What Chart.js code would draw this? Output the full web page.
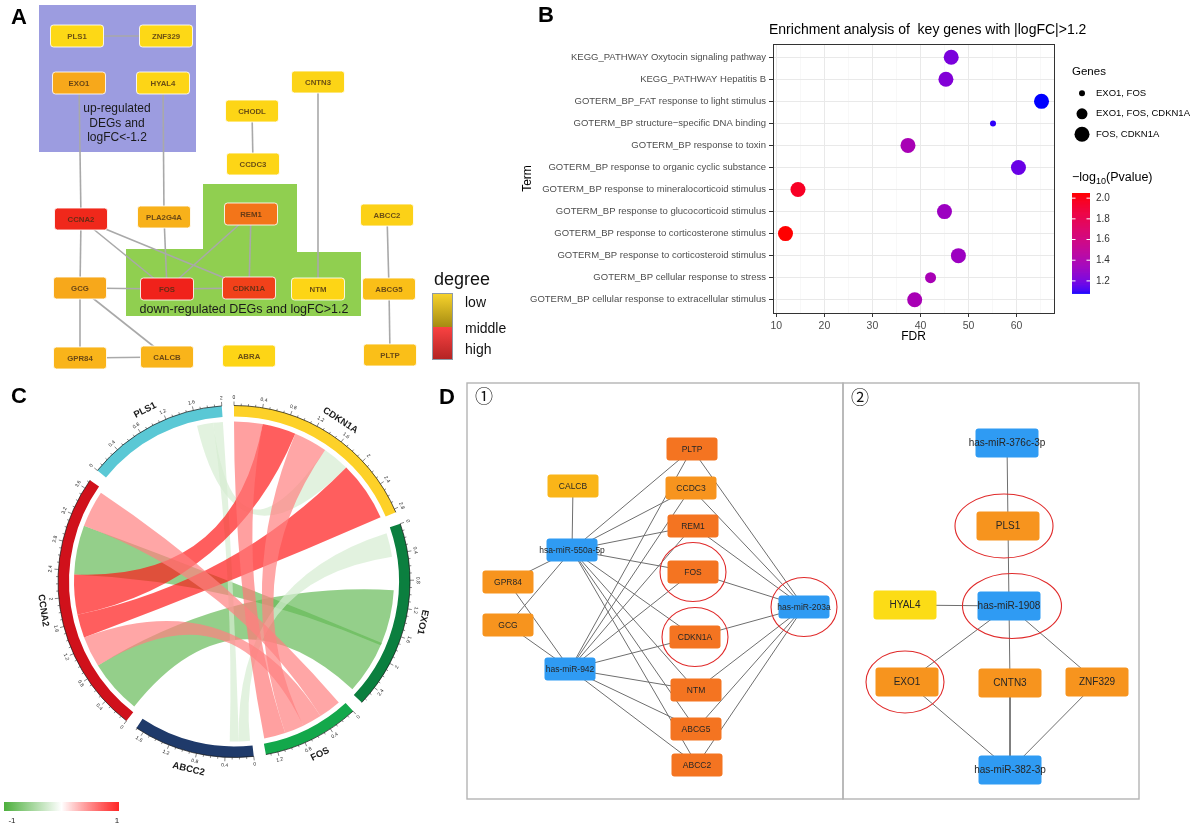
<!DOCTYPE html>
<html><head><meta charset="utf-8">
<title>Key genes figure</title>
<script src="https://cdn.jsdelivr.net/npm/chart.js@4.4.1/dist/chart.umd.min.js"></script>
<style>
html,body{margin:0;padding:0;background:#ffffff;}
body{width:1200px;height:826px;position:relative;overflow:hidden;}
.pane{position:absolute;}
</style></head>
<body>
<div class="pane" style="left:0;top:0;width:520px;height:380px"><canvas id="chartA"></canvas></div>
<div class="pane" style="left:520px;top:0;width:680px;height:345px"><canvas id="chartB"></canvas></div>
<div class="pane" style="left:0;top:380px;width:460px;height:446px"><canvas id="chartC"></canvas></div>
<div class="pane" style="left:435px;top:380px;width:410px;height:446px"><canvas id="chartD1"></canvas></div>
<div class="pane" style="left:841px;top:380px;width:300px;height:446px"><canvas id="chartD2"></canvas></div>
<script>
// ======================= DATA =======================
// ---- Panel A: PPI network (layout units, degree score 0 = low ... 1 = high)
const aGenes   = ['PLS1','ZNF329','EXO1','HYAL4','CNTN3','CHODL','CCDC3','CCNA2','PLA2G4A','REM1','ABCC2','GCG','FOS','CDKN1A','NTM','ABCG5','GPR84','CALCB','ABRA','PLTP'];
const aLayoutX = [77,166,79,163,318,252,253,81,164,251,387,80,167,249,318,389,80,167,249,390];
const aLayoutY = [36,36,83,83,82,111,164,219,217,214,215,288,289,288,289,289,358,357,356,355];
const aDegree  = [0,0,0.33,0.02,0.03,0.02,0.02,0.97,0.27,0.6,0.05,0.33,1,0.85,0.02,0.17,0.25,0.25,0.02,0.17];
const aEdges = [['PLS1','ZNF329'],['EXO1','CCNA2'],['HYAL4','PLA2G4A'],['PLA2G4A','FOS'],['CNTN3','NTM'],['CHODL','CCDC3'],
  ['CCNA2','FOS'],['CCNA2','CDKN1A'],['CCNA2','GCG'],['REM1','FOS'],['REM1','CDKN1A'],['GCG','FOS'],['FOS','CDKN1A'],
  ['GCG','GPR84'],['GCG','CALCB'],['GPR84','CALCB'],['ABCC2','ABCG5'],['ABCG5','PLTP']];
const aUpRegion   = [[39,5],[196,5],[196,152],[39,152]];
const aDownRegion = [[203,184],[297,184],[297,252],[361,252],[361,316],[126,316],[126,249],[203,249]];
const aUpLabel    = ['up-regulated','DEGs and','logFC<-1.2'];
const aDownLabel  = 'down-regulated DEGs and logFC>1.2';
const aDegreeLevels = ['low','middle','high'];

// ---- Panel B: enrichment bubble chart
const bTerms = ['KEGG_PATHWAY Oxytocin signaling pathway','KEGG_PATHWAY Hepatitis B','GOTERM_BP_FAT response to light stimulus',
  'GOTERM_BP structure\u2212specific DNA binding','GOTERM_BP response to toxin','GOTERM_BP response to organic cyclic substance',
  'GOTERM_BP response to mineralocorticoid stimulus','GOTERM_BP response to glucocorticoid stimulus','GOTERM_BP response to corticosterone stimulus',
  'GOTERM_BP response to corticosteroid stimulus','GOTERM_BP cellular response to stress','GOTERM_BP cellular response to extracellular stimulus'];
const bFDR   = [46.4,45.3,65.2,55.1,37.4,60.4,14.5,45.0,11.9,47.9,42.1,38.8];
const bLogP  = [1.22,1.24,1.08,1.10,1.38,1.18,1.97,1.33,2.05,1.33,1.38,1.38];
const bGenes = ['FOS, CDKN1A','FOS, CDKN1A','FOS, CDKN1A','EXO1, FOS','FOS, CDKN1A','FOS, CDKN1A','FOS, CDKN1A','FOS, CDKN1A',
  'FOS, CDKN1A','FOS, CDKN1A','EXO1, FOS, CDKN1A','FOS, CDKN1A'];
const bGeneLevels = ['EXO1, FOS','EXO1, FOS, CDKN1A','FOS, CDKN1A'];
const bXTicks = [10,20,30,40,50,60];
const bColorTicks = [1.2,1.4,1.6,1.8,2.0];

// ---- Panel C: chord diagram (sector sizes and link ends in sector units, correlation -1..1)
const cSectors    = ['CDKN1A','EXO1','FOS','ABCC2','CCNA2','PLS1'];
const cSectorSize = [2.85,2.67,1.37,1.71,3.73,2.0];
const cLinks = [
  // [sectorA, fromA, toA, sectorB, fromB, toB, correlation]
  ['EXO1',0.95,2.62,'CCNA2',0.04,0.88,-0.85],
  ['CCNA2',2.34,3.10,'EXO1',1.78,1.82,-0.85],
  ['CDKN1A',1.48,1.90,'PLS1',1.60,1.85,-0.23],
  ['PLS1',1.85,2.0,'ABCC2',0.20,0.34,-0.23],
  ['EXO1',0.07,0.44,'ABCC2',0.03,0.20,-0.23],
  ['CDKN1A',0.44,0.96,'CCNA2',1.72,2.34,0.9],
  ['CDKN1A',1.90,2.83,'CCNA2',1.36,1.72,0.9],
  ['CDKN1A',0,0.44,'FOS',1.02,1.35,0.53],
  ['CDKN1A',0.96,1.48,'FOS',0.72,1.02,0.5],
  ['CCNA2',3.10,3.67,'FOS',0.07,0.42,0.5],
  ['CCNA2',0.88,1.36,'FOS',0.42,0.72,0.5]
];
const cScaleLabels = ['-1','1'];

// ---- Panel D: miRNA-gene networks (layout units)
const d1Nodes   = ['PLTP','CCDC3','REM1','FOS','CDKN1A','NTM','ABCG5','ABCC2','CALCB','hsa-miR-550a-5p','GPR84','GCG','has-miR-942','has-miR-203a'];
const d1LayoutX = [692,691,693,693,695,696,696,697,573,572,508,508,570,804];
const d1LayoutY = [449,488,526,572,637,690,729,765,486,550,582,625,669,607];
const d1Kind    = ['g3','g2','g3','g3','g3','g3','g3','g3','g1','mi','g2','g2','mi','mi'];
const d1Targets = {
  'hsa-miR-550a-5p':['CALCB','PLTP','CCDC3','REM1','FOS','CDKN1A','NTM','ABCG5','ABCC2','GPR84','GCG'],
  'has-miR-942':['GPR84','GCG','PLTP','CCDC3','REM1','FOS','CDKN1A','NTM','ABCG5','ABCC2'],
  'has-miR-203a':['PLTP','CCDC3','REM1','FOS','CDKN1A','NTM','ABCG5','ABCC2']
};
const d1Circled = ['FOS','CDKN1A','has-miR-203a'];
const d2Nodes   = ['has-miR-376c-3p','PLS1','has-miR-1908','HYAL4','EXO1','CNTN3','ZNF329','has-miR-382-3p'];
const d2LayoutX = [1007,1008,1009,905,907,1010,1097,1010];
const d2LayoutY = [443,526,606,605,682,683,682,770];
const d2Kind    = ['mi','g2','mi','g0','g2','g2','g2','mi'];
const d2Edges = [['has-miR-376c-3p','PLS1'],['PLS1','has-miR-1908'],['HYAL4','has-miR-1908'],['has-miR-1908','EXO1'],
  ['has-miR-1908','CNTN3'],['has-miR-1908','ZNF329'],['EXO1','has-miR-382-3p'],['CNTN3','has-miR-382-3p'],['ZNF329','has-miR-382-3p']];
const d2Circled = ['PLS1','has-miR-1908','EXO1'];

// ======================= STYLE / HELPERS =======================
const FONT = '"Liberation Sans", Arial, Helvetica, sans-serif';
Chart.defaults.font.family = FONT;
Chart.defaults.animation = false;
Chart.defaults.maintainAspectRatio = false;
Chart.defaults.plugins.legend.display = false;
Chart.defaults.plugins.tooltip.enabled = false;

function rrPath(ctx,x,y,w,h,r){ctx.beginPath();ctx.moveTo(x+r,y);ctx.arcTo(x+w,y,x+w,y+h,r);ctx.arcTo(x+w,y+h,x,y+h,r);ctx.arcTo(x,y+h,x,y,r);ctx.arcTo(x,y,x+w,y,r);ctx.closePath();}
function drawNode(ctx,cx,cy,s,label){
  rrPath(ctx,cx-s.w/2,cy-s.h/2,s.w,s.h,s.r||3);ctx.fillStyle=s.fill;ctx.fill();
  if(s.stroke){ctx.strokeStyle=s.stroke;ctx.lineWidth=1;ctx.stroke();}
  ctx.font=s.font;ctx.fillStyle=s.color;ctx.textAlign='center';ctx.textBaseline='middle';ctx.fillText(label,cx,cy+0.5);
}
function mix(c1,c2,t){return c1.map((v,i)=>Math.round(v+(c2[i]-v)*t));}
function rgb(c,a){return a===undefined?`rgb(${c[0]},${c[1]},${c[2]})`:`rgba(${c[0]},${c[1]},${c[2]},${a})`;}
function degreeColor(s){
  const stops=[[0,[253,216,22]],[0.35,[247,165,27]],[0.6,[243,117,25]],[1,[240,34,27]]];
  for(let i=1;i<stops.length;i++){if(s<=stops[i][0]){const t=(s-stops[i-1][0])/(stops[i][0]-stops[i-1][0]);return rgb(mix(stops[i-1][1],stops[i][1],t));}}
  return rgb(stops[stops.length-1][1]);
}
// Lab interpolation (ggplot2 scale_colour_gradient)
function s2l(c){c/=255;return c<=0.04045?c/12.92:Math.pow((c+0.055)/1.055,2.4);}
function l2s(c){c=Math.max(0,Math.min(1,c));return Math.round(255*(c<=0.0031308?12.92*c:1.055*Math.pow(c,1/2.4)-0.055));}
function rgb2lab(c){const R=s2l(c[0]),G=s2l(c[1]),B=s2l(c[2]);
  const X=(0.4124*R+0.3576*G+0.1805*B)/0.95047,Y=0.2126*R+0.7152*G+0.0722*B,Z=(0.0193*R+0.1192*G+0.9505*B)/1.08883;
  const f=t=>t>0.008856?Math.cbrt(t):7.787*t+16/116;const fx=f(X),fy=f(Y),fz=f(Z);return [116*fy-16,500*(fx-fy),200*(fy-fz)];}
function lab2rgb(l){const fy=(l[0]+16)/116,fx=fy+l[1]/500,fz=fy-l[2]/200;const fi=t=>t>0.206893?t*t*t:(t-16/116)/7.787;
  const X=0.95047*fi(fx),Y=fi(fy),Z=1.08883*fi(fz);
  return [l2s(3.2406*X-1.5372*Y-0.4986*Z),l2s(-0.9689*X+1.8758*Y+0.0415*Z),l2s(0.0557*X-0.2040*Y+1.0570*Z)];}
const LAB_LOW=rgb2lab([0,0,255]), LAB_HIGH=rgb2lab([255,0,0]);
const P_MIN=Math.min(...bLogP), P_MAX=Math.max(...bLogP);
function pColor(v){const t=Math.max(0,Math.min(1,(v-P_MIN)/(P_MAX-P_MIN)));return rgb(lab2rgb(LAB_LOW.map((x,i)=>x+(LAB_HIGH[i]-x)*t)));}
function corColor(c,a){const t=Math.min(1,Math.abs(c));const end=c>=0?[255,0,0]:[76,175,60];return rgb(mix([255,255,255],end,t),a);}

function networkChart(id, net){
  const idx=n=>net.names.indexOf(n);
  const edgeSets=net.edges.map(([a,b])=>({
    data:[{x:net.xs[idx(a)],y:net.ys[idx(a)]},{x:net.xs[idx(b)],y:net.ys[idx(b)]}],
    showLine:true,borderColor:net.edgeColor,borderWidth:net.edgeWidth,pointRadius:0,pointHoverRadius:0,order:2}));
  const nodeSet={data:net.names.map((n,i)=>({x:net.xs[i],y:net.ys[i]})),pointRadius:0,pointHoverRadius:0,showLine:false,order:1};
  return new Chart(document.getElementById(id),{
    type:'scatter',
    data:{datasets:[...edgeSets,nodeSet]},
    options:{events:[],layout:{padding:0},
      scales:{x:{type:'linear',display:false,min:net.xMin,max:net.xMax},
              y:{type:'linear',display:false,min:net.yMin,max:net.yMax,reverse:true}}},
    plugins:[{id:'net_'+id,
      beforeDatasetsDraw(chart){const ctx=chart.ctx;ctx.save();net.before&&net.before(chart,ctx);ctx.restore();},
      afterDatasetsDraw(chart){const ctx=chart.ctx;ctx.save();
        const meta=chart.getDatasetMeta(chart.data.datasets.length-1);
        meta.data.forEach((pt,i)=>drawNode(ctx,pt.x,pt.y,net.nodeStyle(i),net.names[i]));
        net.after&&net.after(chart,ctx);ctx.restore();}}]
  });
}
function P(chart,x,y){return [chart.scales.x.getPixelForValue(x),chart.scales.y.getPixelForValue(y)];}
function panelLetter(ctx,t,x,y){ctx.save();ctx.font='bold 22px '+FONT;ctx.fillStyle='#000';ctx.textAlign='center';ctx.textBaseline='middle';ctx.fillText(t,x,y);ctx.restore();}

// ======================= PANEL A =======================
networkChart('chartA',{
  names:aGenes,xs:aLayoutX,ys:aLayoutY,edges:aEdges,edgeColor:'#a9a9a9',edgeWidth:1.6,
  xMin:0,xMax:520,yMin:0,yMax:380,
  nodeStyle:i=>({w:53,h:22,r:3,fill:degreeColor(aDegree[i]),stroke:'rgba(255,255,255,0.85)',font:'bold 7.8px '+FONT,color:'rgba(70,45,20,0.8)'}),
  before(chart,ctx){
    const poly=(pts,col)=>{ctx.beginPath();pts.forEach((p,i)=>{const q=P(chart,p[0],p[1]);i?ctx.lineTo(q[0],q[1]):ctx.moveTo(q[0],q[1]);});ctx.closePath();ctx.fillStyle=col;ctx.fill();};
    poly(aUpRegion,'#9c9ce0');poly(aDownRegion,'#90cf50');
  },
  after(chart,ctx){
    ctx.fillStyle='#1a1a1a';ctx.font='12px '+FONT;ctx.textAlign='center';ctx.textBaseline='middle';
    aUpLabel.forEach((t,i)=>{const q=P(chart,117,109+i*14.5);ctx.fillText(t,q[0],q[1]);});
    const q=P(chart,244,310);ctx.font='12.5px '+FONT;ctx.fillText(aDownLabel,q[0],q[1]);
    // degree legend
    ctx.textAlign='left';ctx.font='18px '+FONT;ctx.fillStyle='#111';ctx.fillText('degree',434,280);
    let g=ctx.createLinearGradient(0,294,0,327);g.addColorStop(0,'#f6d22c');g.addColorStop(1,'#a58b12');
    ctx.fillStyle=g;ctx.fillRect(433,294,19,33);
    g=ctx.createLinearGradient(0,327,0,359);g.addColorStop(0,'#fa4242');g.addColorStop(1,'#b42424');
    ctx.fillStyle=g;ctx.fillRect(433,327,19,32);
    ctx.strokeStyle='#8d9aa8';ctx.lineWidth=1;ctx.strokeRect(432.5,293.5,20,66);
    ctx.font='14px '+FONT;ctx.fillStyle='#111';
    [303,329,350].forEach((y,i)=>ctx.fillText(aDegreeLevels[i],465,y));
    panelLetter(ctx,'A',19,18);
  }
});

// ======================= PANEL B =======================
const GENE_RADIUS={'EXO1, FOS':3,'EXO1, FOS, CDKN1A':5.5,'FOS, CDKN1A':7.5};
new Chart(document.getElementById('chartB'),{
  type:'bubble',
  data:{datasets:[{data:bFDR.map((f,i)=>({x:f,y:i})),
    backgroundColor:c=>pColor(bLogP[c.dataIndex]),borderWidth:0,
    radius:c=>GENE_RADIUS[bGenes[c.dataIndex]],hoverRadius:0}]},
  options:{events:[],
    layout:{padding:{top:44,right:146,left:0,bottom:0}},
    scales:{
      x:{type:'linear',min:9.3,max:67.8,afterFit(s){s.height=32;},
        ticks:{stepSize:5,includeBounds:false,autoSkip:false,maxRotation:0,color:'#4d4d4d',font:{size:10.5},padding:3,
          callback:v=>bXTicks.includes(v)?String(v):''},
        grid:{color:c=>bXTicks.includes(c.tick&&c.tick.value)?'#e9e9e9':'#f3f3f3',
              lineWidth:c=>bXTicks.includes(c.tick&&c.tick.value)?1:0.6,
              tickColor:c=>bXTicks.includes(c.tick&&c.tick.value)?'#333':'rgba(0,0,0,0)',tickLength:4},
        border:{display:false},
        title:{display:true,text:'FDR',color:'#000',font:{size:12},padding:{top:0,bottom:1}}},
      y:{type:'linear',min:-0.6,max:11.6,reverse:true,afterFit(s){s.width=253;},
        ticks:{stepSize:1,includeBounds:false,autoSkip:false,color:'#4d4d4d',font:{size:9.5},padding:3,
          callback:v=>Number.isInteger(v)?bTerms[v]:''},
        grid:{color:'#e9e9e9',tickColor:'#333',tickLength:4},
        border:{display:false},
        title:{display:true,text:'Term',color:'#000',font:{size:12},padding:{top:0,bottom:0}}}
    }},
  plugins:[{id:'bDecor',
    afterDraw(chart){
      const ctx=chart.ctx,a=chart.chartArea;ctx.save();
      ctx.strokeStyle='#333';ctx.lineWidth=1;
      ctx.strokeRect(Math.round(a.left)+0.5,Math.round(a.top)+0.5,Math.round(a.right-a.left),Math.round(a.bottom-a.top));
      panelLetter(ctx,'B',26,16);
      ctx.fillStyle='#000';ctx.font='14px '+FONT;ctx.textAlign='left';ctx.textBaseline='middle';
      ctx.fillText('Enrichment analysis of  key genes with |logFC|>1.2',a.left-4,30);
      // size legend
      const lx=a.right+18;
      ctx.textAlign='left';ctx.font='11.5px '+FONT;ctx.fillText('Genes',lx,72);
      ctx.font='9.5px '+FONT;
      bGeneLevels.forEach((g,i)=>{const y=93.3+i*20.5;ctx.beginPath();ctx.arc(lx+10,y,GENE_RADIUS[g],0,Math.PI*2);ctx.fillStyle='#000';ctx.fill();ctx.fillText(g,lx+24,y);});
      // colour legend
      ctx.font='12.5px '+FONT;let x=lx;const ty=178;
      ctx.fillText('\u2212log',x,ty);x+=ctx.measureText('\u2212log').width;
      ctx.font='9px '+FONT;ctx.fillText('10',x,ty+4);x+=ctx.measureText('10').width;
      ctx.font='12.5px '+FONT;ctx.fillText('(Pvalue)',x,ty);
      const bx=lx,bw=18,btop=193,bbot=293.3,steps=100;
      for(let i=0;i<steps;i++){const v=P_MIN+(P_MAX-P_MIN)*(i+0.5)/steps;ctx.fillStyle=pColor(v);
        const y0=bbot-(i+1)*(bbot-btop)/steps;ctx.fillRect(bx,y0,bw,(bbot-btop)/steps+0.6);}
      ctx.font='10px '+FONT;
      bColorTicks.forEach(v=>{const y=bbot-(v-P_MIN)/(P_MAX-P_MIN)*(bbot-btop);
        ctx.strokeStyle='#fff';ctx.lineWidth=1;ctx.beginPath();ctx.moveTo(bx,y);ctx.lineTo(bx+3.5,y);ctx.moveTo(bx+bw-3.5,y);ctx.lineTo(bx+bw,y);ctx.stroke();
        ctx.fillStyle='#333';ctx.fillText(v.toFixed(1),bx+bw+6,y);});
      ctx.restore();
    }}]
});

// ======================= PANEL C =======================
const C_SECTOR_COLORS=['#fdd128','#0b7f3f','#13a84b','#1f3a6a','#d0111b','#5ac8d5'];
const C_GAP=0.17;
const cData=[],cFill=[],cLabels=[];
cSectorSize.forEach((s,i)=>{cData.push(s,C_GAP);cFill.push(C_SECTOR_COLORS[i],'rgba(0,0,0,0)');cLabels.push(cSectors[i],'');});
function tangentRot(th){let r=th+Math.PI/2;r=Math.atan2(Math.sin(r),Math.cos(r));
  if(r>110*Math.PI/180||r<=-Math.PI/2){r+=Math.PI;r=Math.atan2(Math.sin(r),Math.cos(r));}return r;}
new Chart(document.getElementById('chartC'),{
  type:'doughnut',
  data:{labels:cLabels,datasets:[{data:cData,backgroundColor:cFill,borderWidth:0,hoverOffset:0,spacing:0}]},
  options:{events:[],layout:{padding:{left:58,right:50,top:25.5,bottom:68.5}},cutout:165,radius:176,rotation:0,circumference:360},
  plugins:[{id:'chord',
    beforeDatasetsDraw(chart){
      const ctx=chart.ctx,meta=chart.getDatasetMeta(0);
      const ang=(name,u)=>{const k=cSectors.indexOf(name);const a=meta.data[2*k];return a.startAngle+(u/cSectorSize[k])*(a.endAngle-a.startAngle);};
      const a0=meta.data[0];const cx=a0.x,cy=a0.y,R=a0.innerRadius-5;
      ctx.save();
      cLinks.forEach(([sa,u0,u1,sb,v0,v1,cor])=>{
        const p0=ang(sa,u0),p1=ang(sa,u1),q0=ang(sb,v0),q1=ang(sb,v1);
        ctx.beginPath();ctx.moveTo(cx+R*Math.cos(p0),cy+R*Math.sin(p0));
        ctx.arc(cx,cy,R,p0,p1,false);
        ctx.quadraticCurveTo(cx,cy,cx+R*Math.cos(q0),cy+R*Math.sin(q0));
        ctx.arc(cx,cy,R,q0,q1,false);
        ctx.quadraticCurveTo(cx,cy,cx+R*Math.cos(p0),cy+R*Math.sin(p0));
        ctx.closePath();ctx.fillStyle=corColor(cor,0.7);ctx.fill();
      });
      ctx.restore();
    },
    afterDatasetsDraw(chart){
      const ctx=chart.ctx,meta=chart.getDatasetMeta(0);ctx.save();
      cSectors.forEach((name,k)=>{
        const a=meta.data[2*k],cx=a.x,cy=a.y,Ro=a.outerRadius;
        ctx.strokeStyle='#111';ctx.lineWidth=0.7;ctx.beginPath();ctx.arc(cx,cy,Ro,a.startAngle,a.endAngle);ctx.stroke();
        const n=Math.floor(cSectorSize[k]/0.1+1e-6);
        for(let i=0;i<=n;i++){
          const u=i*0.1,th=a.startAngle+(u/cSectorSize[k])*(a.endAngle-a.startAngle),major=i%4===0;
          const r2=Ro+(major?4:2);
          ctx.lineWidth=0.5;ctx.beginPath();ctx.moveTo(cx+Ro*Math.cos(th),cy+Ro*Math.sin(th));ctx.lineTo(cx+r2*Math.cos(th),cy+r2*Math.sin(th));ctx.stroke();
          if(major){
            ctx.save();ctx.translate(cx+(Ro+8)*Math.cos(th),cy+(Ro+8)*Math.sin(th));ctx.rotate(tangentRot(th));
            ctx.font='5px '+FONT;ctx.fillStyle='#222';ctx.textAlign='center';ctx.textBaseline='middle';
            ctx.fillText(String(Math.round(u*10)/10),0,0);ctx.restore();
          }
        }
        const mid=(a.startAngle+a.endAngle)/2;
        ctx.save();ctx.translate(cx+193*Math.cos(mid),cy+193*Math.sin(mid));ctx.rotate(tangentRot(mid));
        ctx.font='bold 9.5px '+FONT;ctx.fillStyle='#1a1a1a';ctx.textAlign='center';ctx.textBaseline='middle';ctx.fillText(name,0,0);ctx.restore();
      });
      // colour key
      const g=ctx.createLinearGradient(4,0,119,0);
      g.addColorStop(0,corColor(-1,1));g.addColorStop(0.5,'#ffffff');g.addColorStop(1,corColor(1,0.85));
      ctx.fillStyle=g;ctx.fillRect(4,422,115,9);
      ctx.font='8px '+FONT;ctx.fillStyle='#222';ctx.textAlign='center';ctx.textBaseline='middle';
      ctx.fillText(cScaleLabels[0],12,441);ctx.fillText(cScaleLabels[1],117,441);
      panelLetter(ctx,'C',19,17);
      ctx.restore();
    }}]
});

// ======================= PANEL D =======================
const D_KIND_COLOR={mi:'#2f9bf3',g3:'#f47421',g2:'#f7941e',g1:'#fab518',g0:'#fcdc16'};
const d1Edges=[];Object.keys(d1Targets).forEach(m=>d1Targets[m].forEach(t=>d1Edges.push([m,t])));
function ellipses(chart,ctx,names,xs,ys,list,sizes){
  ctx.strokeStyle='#e02a2a';ctx.lineWidth=1.1;
  list.forEach(n=>{const i=names.indexOf(n);const q=P(chart,xs[i],ys[i]);const s=sizes[n]||sizes.default;
    ctx.beginPath();ctx.ellipse(q[0]+(s[2]||0),q[1],s[0],s[1],0,0,Math.PI*2);ctx.stroke();});
}
function frame(chart,ctx,x0,y0,x1,y1){const a=P(chart,x0,y0),b=P(chart,x1,y1);ctx.strokeStyle='#b4b4b4';ctx.lineWidth=1.4;ctx.strokeRect(a[0],a[1],b[0]-a[0],b[1]-a[1]);}
networkChart('chartD1',{
  names:d1Nodes,xs:d1LayoutX,ys:d1LayoutY,edges:d1Edges,edgeColor:'#6e6e6e',edgeWidth:1,
  xMin:435,xMax:845,yMin:380,yMax:826,
  nodeStyle:i=>({w:51,h:23,r:3,fill:D_KIND_COLOR[d1Kind[i]],font:'8.5px '+FONT,color:'#262626'}),
  before(chart,ctx){frame(chart,ctx,467,383,843,799);},
  after(chart,ctx){
    ellipses(chart,ctx,d1Nodes,d1LayoutX,d1LayoutY,d1Circled,{default:[33,29.5]});
    const q=P(chart,484,396);ctx.font='18px "Noto Sans CJK SC", "DejaVu Sans", sans-serif';ctx.fillStyle='#111';ctx.textAlign='center';ctx.textBaseline='middle';ctx.fillText('\u2460',q[0],q[1]);
    const d=P(chart,447,398);panelLetter(ctx,'D',d[0],d[1]);
  }
});
networkChart('chartD2',{
  names:d2Nodes,xs:d2LayoutX,ys:d2LayoutY,edges:d2Edges,edgeColor:'#6e6e6e',edgeWidth:1,
  xMin:841,xMax:1141,yMin:380,yMax:826,
  nodeStyle:i=>({w:63,h:29,r:3,fill:D_KIND_COLOR[d2Kind[i]],font:'10px '+FONT,color:'#262626'}),
  before(chart,ctx){frame(chart,ctx,843,383,1139,799);},
  after(chart,ctx){
    ellipses(chart,ctx,d2Nodes,d2LayoutX,d2LayoutY,d2Circled,{'PLS1':[49,32,-4],'has-miR-1908':[49.5,32.5,3],'EXO1':[39,31,-2],default:[40,30]});
    const q=P(chart,860,397);ctx.font='18px "Noto Sans CJK SC", "DejaVu Sans", sans-serif';ctx.fillStyle='#111';ctx.textAlign='center';ctx.textBaseline='middle';ctx.fillText('\u2461',q[0],q[1]);
  }
});
</script>
</body></html>
